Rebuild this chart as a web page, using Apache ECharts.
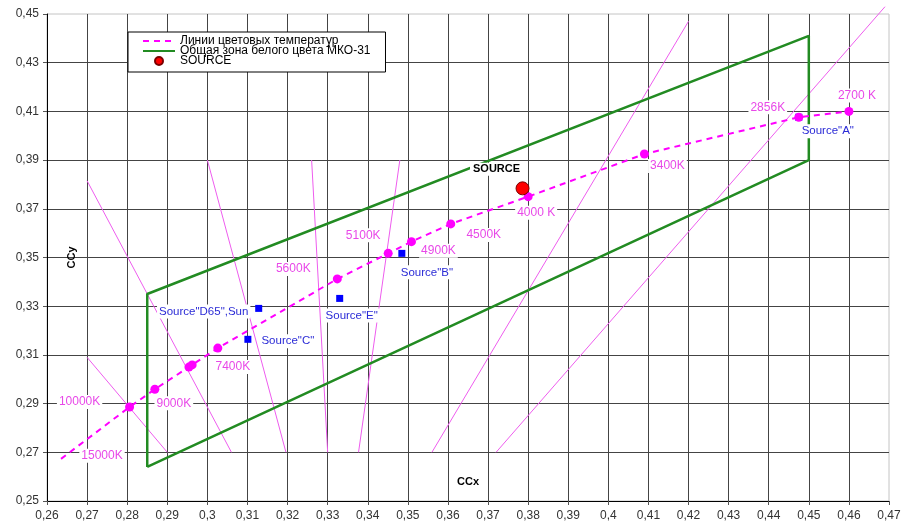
<!DOCTYPE html>
<html>
<head>
<meta charset="utf-8">
<script src="https://cdn.jsdelivr.net/npm/echarts@6/dist/echarts.min.js"></script>
<style>
  html, body { margin: 0; padding: 0; background: #fff; }
  #chart { width: 905px; height: 525px; }
</style>
</head>
<body>
<div id="chart"></div>
<script>
// axis ranges: [min, max, step]
const xAxisRange = [0.26, 0.47, 0.01]
const yAxisRange = [0.25, 0.45, 0.02]

// colour temperature points (first one = curve start, no dot)
const tempNames = ['15000K', '10000K', '9000K', '', '', '7400K', '5600K', '5100K', '4900K', '4500K', '4000 K', '3400K', '2856K', '2700 K']
const tempX = [0.2635, 0.2806, 0.2869, 0.2954, 0.2962, 0.3026, 0.3324, 0.3451, 0.3509, 0.3607, 0.38, 0.409, 0.4475, 0.46]
const tempY = [0.2673, 0.2886, 0.2959, 0.305, 0.3059, 0.3128, 0.3412, 0.3517, 0.3565, 0.3638, 0.375, 0.3925, 0.4076, 0.41]

// standard sources
const srcNames = ['Source"D65",Sun', 'Source"C"', 'Source"E"', 'Source"B"', 'Source"A"']
const srcX = [0.3128, 0.3101, 0.333, 0.3485, 0.4475]
const srcY = [0.3291, 0.3164, 0.3332, 0.3517, 0.4076]

// measured source
const sourceX = [0.3786]
const sourceY = [0.3784]

// white zone MKO-31 outline
const zoneX = [0.285, 0.285, 0.45, 0.45, 0.285]
const zoneY = [0.264, 0.335, 0.441, 0.39, 0.264]

// isotemperature lines, [x1, y1, x2, y2]
const isoLines = [
  [0.27, 0.3815, 0.306, 0.27],
  [0.27, 0.309, 0.29, 0.27],
  [0.30, 0.39, 0.3196, 0.27],
  [0.326, 0.39, 0.33, 0.27],
  [0.348, 0.39, 0.3377, 0.27],
  [0.42, 0.447, 0.356, 0.27],
  [0.469, 0.453, 0.372, 0.27],
]

// label offsets in px (style only)
const tempLabelOffset = {
  '15000K': [41, -3],
  '10000K': [-50, -5],
  '9000K': [19, 14],
  '7400K': [15, 19],
  '5600K': [-44, -10],
  '5100K': [-25, -18],
  '4900K': [27, 9],
  '4500K': [33, 11],
  '4000 K': [8, 16],
  '3400K': [23, 12],
  '2856K': [-31, -10],
  '2700 K': [8, -16],
}
const srcLabelOffset = [[-55, 3], [40, 2], [12, 17], [25, 19], [29, 14]]

const PINK = '#ff00ff'
const PINK_TEXT = '#e848e8'
const FONT = '"Liberation Sans", Arial, sans-serif'

const fmt = (v) => String(+v.toFixed(2)).replace('.', ',')

const chart = echarts.init(document.getElementById('chart'))

const isoSeries = isoLines.map((l, i) => ({
  name: 'iso' + i,
  type: 'line',
  data: [[l[0], l[1]], [l[2], l[3]]],
  symbol: 'none',
  clip: false,
  silent: true,
  lineStyle: { color: '#ee5cee', width: 1 },
  z: 2,
}))

chart.setOption({
  animation: false,
  textStyle: { fontFamily: FONT },
  grid: { left: 47, right: 16, top: 14, bottom: 24, show: true, borderColor: '#c4c4c4', borderWidth: 1 },
  legend: {
    orient: 'vertical',
    left: 128,
    top: 32,
    padding: [3, 15, 5, 14],
    itemGap: -2,
    itemWidth: 32,
    itemHeight: 8,
    backgroundColor: '#fff',
    borderColor: '#000',
    borderWidth: 1,
    borderRadius: 0,
    textStyle: { fontSize: 12, color: '#000', fontFamily: FONT },
    data: [
      { name: 'Линии цветовых температур', itemStyle: { opacity: 0 } },
      { name: 'Общая зона белого цвета МКО-31', itemStyle: { opacity: 0 } },
      { name: 'SOURCE' },
    ],
  },
  xAxis: {
    type: 'value',
    min: xAxisRange[0],
    max: xAxisRange[1],
    interval: xAxisRange[2],
    name: 'CCx',
    nameLocation: 'middle',
    nameGap: -25,
    nameTextStyle: { fontWeight: 'bold', fontSize: 11, color: '#000' },
    axisLine: { lineStyle: { color: '#000' } },
    axisTick: { show: true, length: 4, lineStyle: { color: '#555' } },
    axisLabel: { formatter: fmt, fontSize: 12, color: '#333', margin: 9 },
    splitLine: { lineStyle: { color: '#444', width: 1 }, showMaxLine: false },
  },
  yAxis: {
    type: 'value',
    min: yAxisRange[0],
    max: yAxisRange[1],
    interval: yAxisRange[2],
    name: 'CCy',
    nameLocation: 'middle',
    nameRotate: 90,
    nameGap: -30,
    nameTextStyle: { fontWeight: 'bold', fontSize: 11, color: '#000' },
    axisLine: { show: true, lineStyle: { color: '#000' } },
    axisTick: { show: true, length: 4, lineStyle: { color: '#555' } },
    axisLabel: { formatter: fmt, fontSize: 12, color: '#333', margin: 8 },
    splitLine: { lineStyle: { color: '#444', width: 1 }, showMaxLine: false },
  },
  series: [
    ...isoSeries,
    {
      name: 'Общая зона белого цвета МКО-31',
      type: 'line',
      data: zoneX.map((x, i) => [x, zoneY[i]]),
      symbol: 'none',
      lineStyle: { color: '#228b22', width: 2.5 },
      itemStyle: { color: '#228b22' },
      z: 3,
    },
    {
      name: 'Линии цветовых температур',
      type: 'line',
      data: tempX.map((x, i) => [x, tempY[i]]),
      symbol: 'none',
      lineStyle: { color: PINK, width: 2, type: [6, 5] },
      itemStyle: { color: PINK },
      z: 4,
    },
    {
      name: 'sources',
      type: 'scatter',
      symbol: 'rect',
      symbolSize: 7,
      itemStyle: { color: '#0000ff', opacity: 1 },
      data: srcNames.map((n, i) => ({
        name: n,
        value: [srcX[i], srcY[i]],
        label: { offset: srcLabelOffset[i] },
      })),
      label: {
        show: true,
        position: 'inside',
        formatter: '{b}',
        color: '#2b2bd6',
        fontSize: 11.5,
        backgroundColor: '#fff',
        padding: [1, 2],
      },
      z: 5,
    },
    {
      name: 'temps',
      type: 'scatter',
      symbol: 'circle',
      symbolSize: 9,
      itemStyle: { color: PINK, opacity: 1 },
      data: tempNames.map((n, i) => ({
        name: n,
        value: [tempX[i], tempY[i]],
        symbolSize: i === 0 ? 0 : 9,
        label: { show: n !== '', offset: tempLabelOffset[n] || [0, 0] },
      })),
      label: {
        show: true,
        position: 'inside',
        formatter: '{b}',
        color: PINK_TEXT,
        fontSize: 12,
        backgroundColor: '#fff',
        padding: [1, 2],
      },
      z: 6,
    },
    {
      name: 'SOURCE',
      type: 'scatter',
      symbol: 'circle',
      symbolSize: 13,
      itemStyle: { color: '#ff0000', borderColor: '#7a0000', borderWidth: 1, opacity: 1 },
      data: sourceX.map((x, i) => ({ name: 'SOURCE', value: [x, sourceY[i]] })),
      label: {
        show: true,
        position: 'inside',
        offset: [-26, -19],
        formatter: '{b}',
        color: '#000',
        fontWeight: 'bold',
        fontSize: 11,
        backgroundColor: '#fff',
        padding: [1, 3],
      },
      z: 7,
    },
  ],
})
</script>
</body>
</html>
